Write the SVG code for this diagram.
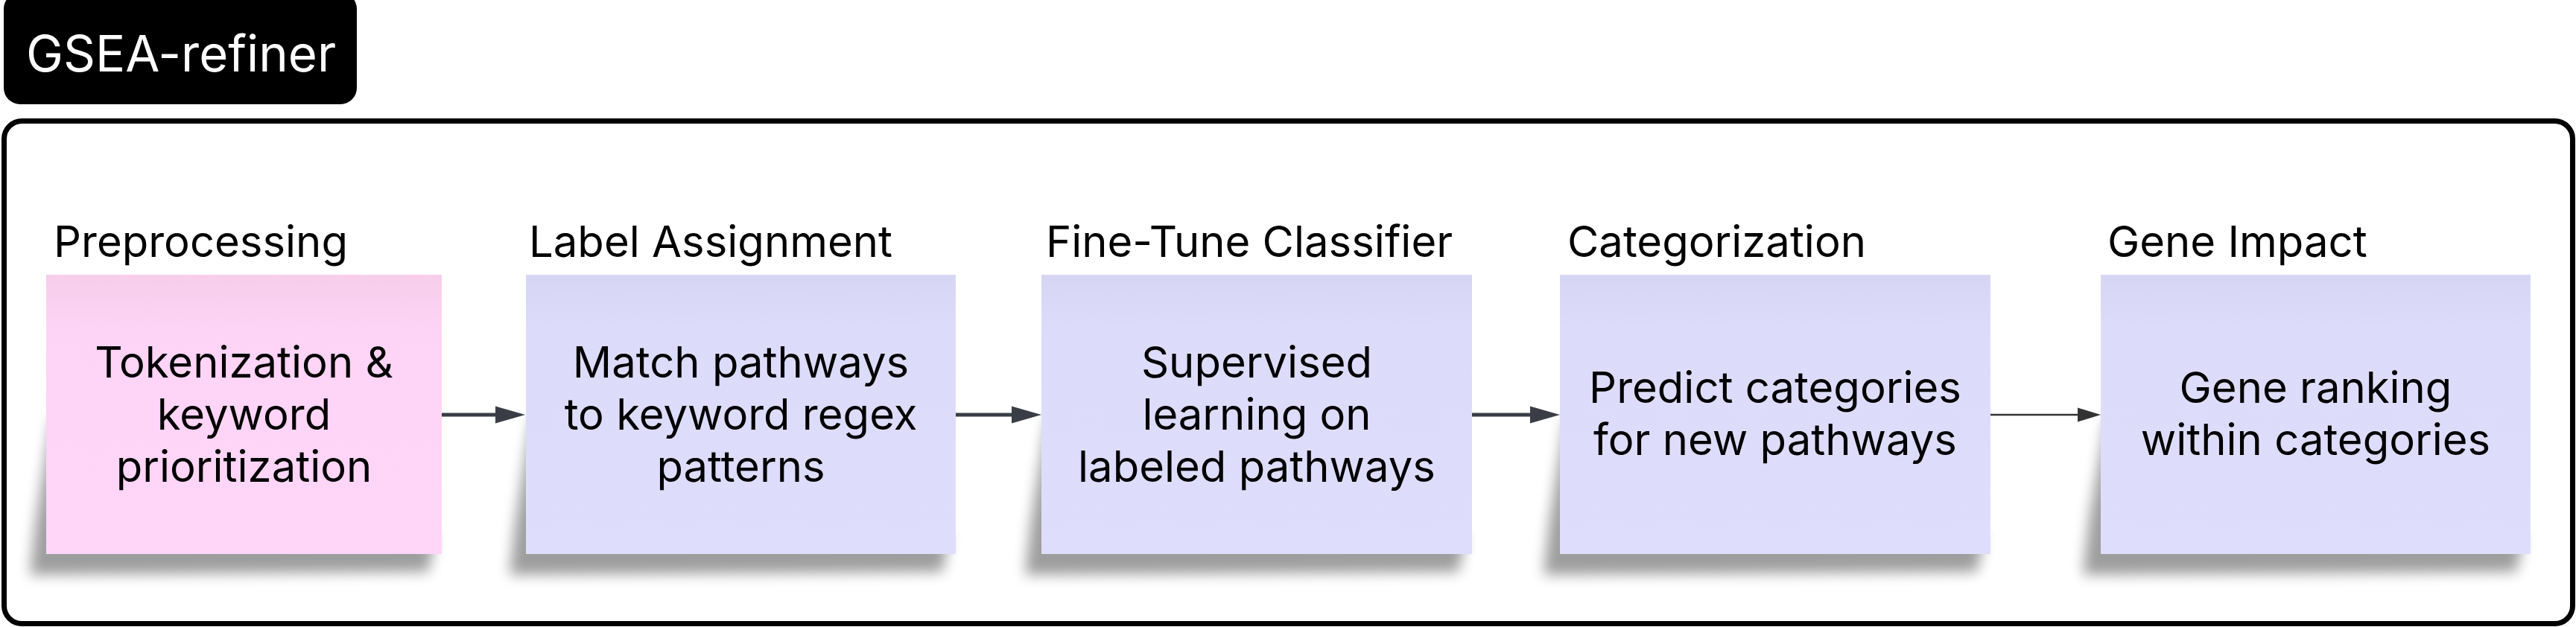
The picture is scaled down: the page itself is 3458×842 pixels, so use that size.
<svg xmlns="http://www.w3.org/2000/svg" width="3458" height="842" viewBox="0 0 3458 842">
  <style>
    .hdr { font-family: Inter, "Liberation Sans", sans-serif; font-size: 58px; fill: #000; }
    .body { font-family: Inter, "Liberation Sans", sans-serif; font-size: 58px; fill: #000; text-anchor: middle; }
    .title { font-family: Inter, "Liberation Sans", sans-serif; font-size: 67px; fill: #fff; }
    .pink { fill: url(#gPink); }
    .lav { fill: url(#gLav); }
    .shadow { fill: #000; opacity: 0.38; filter: url(#blur); }
    .conn { stroke: #393e46; stroke-width: 5; fill: none; }
    .conn-thin { stroke: #333; stroke-width: 2.6; fill: none; }
  </style>
  <defs>
    <linearGradient id="gPink" x1="0" y1="0" x2="0" y2="1">
      <stop offset="0" stop-color="#F7CDEB"/>
      <stop offset="0.2" stop-color="#FDD4F5"/>
      <stop offset="1" stop-color="#FFD6F7"/>
    </linearGradient>
    <linearGradient id="gLav" x1="0" y1="0" x2="0" y2="1">
      <stop offset="0" stop-color="#D6D6F4"/>
      <stop offset="0.2" stop-color="#DCDCFA"/>
      <stop offset="1" stop-color="#DEDEFC"/>
    </linearGradient>
    <filter id="blur" x="-20%" y="-20%" width="140%" height="160%">
      <feGaussianBlur stdDeviation="9"/>
    </filter>
  </defs>

  <rect width="3458" height="842" fill="#fff"/>

  <g id="title">
    <rect x="5" y="-10" width="474" height="150" rx="22" fill="#000"/>
    <text class="title" x="35" y="96">GSEA-refiner</text>
  </g>

  <g id="frame">
    <rect x="5.5" y="162.5" width="3448" height="675" rx="24" fill="none" stroke="#000" stroke-width="7"/>
  </g>

  <g id="node-preprocessing">
    <path class="shadow" d="M70,560 L585,720 L575,768 L40,772 L48,700 Z"/>
    <rect class="pink" x="62" y="369" width="531" height="375"/>
    <text class="hdr" x="72" y="345">Preprocessing</text>
    <text class="body" x="327.5" y="507">Tokenization &amp;</text>
    <text class="body" x="327.5" y="577">keyword</text>
    <text class="body" x="327.5" y="647">prioritization</text>
  </g>

  <g id="node-label-assignment">
    <path class="shadow" d="M714,560 L1275,720 L1265,768 L684,772 L692,700 Z"/>
    <rect class="lav" x="706" y="369" width="577" height="375"/>
    <text class="hdr" x="710" y="345">Label Assignment</text>
    <text class="body" x="994.5" y="507">Match pathways</text>
    <text class="body" x="994.5" y="577">to keyword regex</text>
    <text class="body" x="994.5" y="647">patterns</text>
  </g>

  <g id="node-fine-tune">
    <path class="shadow" d="M1406,560 L1968,720 L1958,768 L1376,772 L1384,700 Z"/>
    <rect class="lav" x="1398" y="369" width="578" height="375"/>
    <text class="hdr" x="1404" y="345">Fine-Tune Classifier</text>
    <text class="body" x="1687" y="507">Supervised</text>
    <text class="body" x="1687" y="577">learning on</text>
    <text class="body" x="1687" y="647">labeled pathways</text>
  </g>

  <g id="node-categorization">
    <path class="shadow" d="M2102,560 L2664,720 L2654,768 L2072,772 L2080,700 Z"/>
    <rect class="lav" x="2094" y="369" width="578" height="375"/>
    <text class="hdr" x="2104" y="345">Categorization</text>
    <text class="body" x="2383" y="541">Predict categories</text>
    <text class="body" x="2383" y="611">for new pathways</text>
  </g>

  <g id="node-gene-impact">
    <path class="shadow" d="M2828,560 L3388,720 L3378,768 L2796,772 L2804,700 Z"/>
    <rect class="lav" x="2820" y="369" width="577" height="375"/>
    <text class="hdr" x="2829" y="345">Gene Impact</text>
    <text class="body" x="3108.5" y="541">Gene ranking</text>
    <text class="body" x="3108.5" y="611">within categories</text>
  </g>

  <g id="connectors">
    <line class="conn" x1="593" y1="557" x2="667" y2="557"/>
    <polygon points="665,545.5 705,557 665,568.5" fill="#393e46"/>
    <line class="conn" x1="1283" y1="557" x2="1360" y2="557"/>
    <polygon points="1358,545.5 1398,557 1358,568.5" fill="#393e46"/>
    <line class="conn" x1="1976" y1="557" x2="2056" y2="557"/>
    <polygon points="2054,545.5 2094,557 2054,568.5" fill="#393e46"/>
    <line class="conn-thin" x1="2672" y1="557" x2="2791" y2="557"/>
    <polygon points="2789,547.5 2820,557 2789,566.5" fill="#333"/>
  </g>
</svg>
